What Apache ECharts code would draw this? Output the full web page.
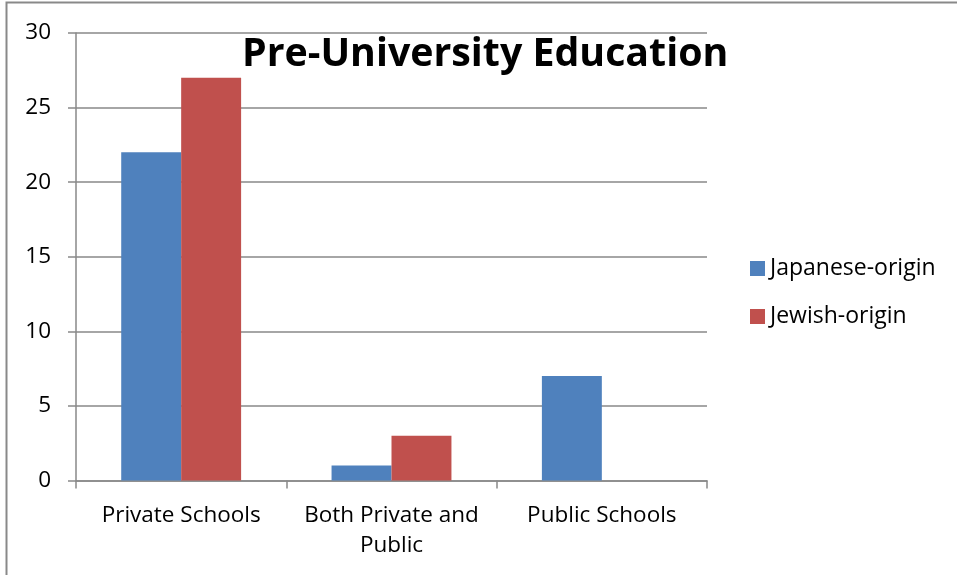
<!DOCTYPE html>
<html>
<head>
<meta charset="utf-8">
<script src="https://cdn.jsdelivr.net/npm/echarts@6/dist/echarts.min.js"></script>
<style>
  html, body { margin: 0; padding: 0; background: #fff; }
  #chart { width: 957px; height: 575px; }
</style>
</head>
<body>
<div id="chart"></div>
<script>
// Schooling categories and counts per group
const categories = ['Private Schools', 'Both Private and\nPublic', 'Public Schools'];
const japaneseOrigin = [22, 1, 7];
const jewishOrigin = [27, 3, 0];
const seriesNames = ['Japanese-origin', 'Jewish-origin'];
const yTicks = { min: 0, max: 30, interval: 5 };

const FONT = '"Open Sans", Lato, sans-serif';
const GREY = '#898989';

const chart = echarts.init(document.getElementById('chart'));
chart.setOption({
  animation: false,
  backgroundColor: '#fff',
  title: {
    text: 'Pre-University Education',
    left: 242,
    top: 35,
    padding: 0,
    textStyle: { fontFamily: FONT, fontWeight: 'bold', fontSize: 39.3, color: '#000' }
  },
  legend: {
    orient: 'vertical',
    left: 750,
    top: 257,
    itemWidth: 15,
    itemHeight: 15,
    itemGap: 25,
    icon: 'rect',
    padding: 0,
    textStyle: { fontFamily: FONT, fontSize: 23, color: '#000', padding: [0, 0, 0, 0] },
    data: seriesNames
  },
  grid: { left: 76, top: 33, width: 631, height: 447.5, containLabel: false },
  xAxis: {
    type: 'category',
    data: categories,
    axisLine: { lineStyle: { color: GREY, width: 1.5 } },
    axisTick: { show: true, interval: 0, length: 8, lineStyle: { color: GREY, width: 1.5 } },
    axisLabel: { interval: 0, fontFamily: FONT, fontSize: 22.5, color: '#000', margin: 20, lineHeight: 30 }
  },
  yAxis: {
    type: 'value',
    min: yTicks.min,
    max: yTicks.max,
    interval: yTicks.interval,
    axisLine: { show: true, lineStyle: { color: GREY, width: 1.5 } },
    axisTick: { show: true, length: 8, lineStyle: { color: GREY, width: 1.5 } },
    splitLine: { lineStyle: { color: GREY, width: 1.5 } },
    axisLabel: { fontFamily: FONT, fontSize: 22.5, color: '#000', margin: 25 }
  },
  series: [
    {
      name: seriesNames[0],
      type: 'bar',
      data: japaneseOrigin,
      barGap: '0%',
      barCategoryGap: '43%',
      itemStyle: { color: '#4f81bd' }
    },
    {
      name: seriesNames[1],
      type: 'bar',
      data: jewishOrigin,
      barGap: '0%',
      barCategoryGap: '43%',
      itemStyle: { color: '#c0504d' }
    }
  ],
  graphic: [
    {
      type: 'rect',
      shape: { x: 6.5, y: 2.5, width: 1000, height: 1000 },
      style: { fill: 'none', stroke: GREY, lineWidth: 2 },
      silent: true
    }
  ]
});
</script>
</body>
</html>
